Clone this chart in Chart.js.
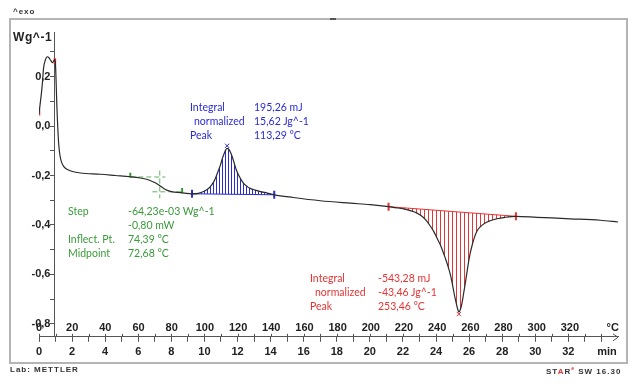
<!DOCTYPE html>
<html><head><meta charset="utf-8">
<script src="https://cdn.jsdelivr.net/npm/chart.js@4/dist/chart.umd.min.js"></script>
<style>
html,body{margin:0;padding:0;background:#fff;}
#wrap{position:relative;width:634px;height:384px;overflow:hidden;background:#fff;}
#c{position:absolute;left:0;top:0;}
.frame{position:absolute;left:9px;top:18px;width:615px;height:342px;border:2px solid #b4b4b4;pointer-events:none;}
.topmark{position:absolute;left:330px;top:18px;width:6px;height:2px;background:#555;}
.small{position:absolute;font-family:"Liberation Sans",Arial,sans-serif;font-weight:bold;font-size:8px;letter-spacing:1px;color:#333;white-space:nowrap;}
.ytitle{position:absolute;left:13px;top:30px;font-family:"Liberation Sans",Arial,sans-serif;font-weight:bold;font-size:12px;letter-spacing:0.6px;color:#222;}
.t{position:absolute;white-space:nowrap;font-family:Lato,"Open Sans",sans-serif;font-size:10.5px;line-height:14px;}
.blue{color:#2b2bd6;} .green{color:#3a9a3a;} .red{color:#e63333;}
</style></head>
<body>
<div id="wrap">
<canvas id="c" width="634" height="384"></canvas>
<div class="frame"></div>
<div class="topmark"></div>
<div class="small" style="left:13px;top:7px;">^exo</div>
<div class="ytitle">Wg^-1</div>
<div class="small" style="left:10px;top:365px;">Lab: METTLER</div>
<div class="small" style="left:546px;top:365px;letter-spacing:1px;">ST<span style="color:#e63333">A</span>R<sup style="color:#e63333;font-size:5px;">e</sup> SW 16.30</div>

<div class="t blue" style="left:190px;top:100px;">Integral</div>
<div class="t blue" style="left:194px;top:114px;">normalized</div>
<div class="t blue" style="left:190px;top:128px;">Peak</div>
<div class="t blue" style="left:254px;top:100px;">195,26 mJ</div>
<div class="t blue" style="left:254px;top:114px;">15,62 Jg^-1</div>
<div class="t blue" style="left:254px;top:128px;">113,29 °C</div>

<div class="t green" style="left:68px;top:204px;">Step</div>
<div class="t green" style="left:128px;top:204px;">-64,23e-03 Wg^-1</div>
<div class="t green" style="left:128px;top:218px;">-0,80 mW</div>
<div class="t green" style="left:68px;top:232px;">Inflect. Pt.</div>
<div class="t green" style="left:128px;top:232px;">74,39 °C</div>
<div class="t green" style="left:68px;top:246px;">Midpoint</div>
<div class="t green" style="left:128px;top:246px;">72,68 °C</div>

<div class="t red" style="left:310px;top:271px;">Integral</div>
<div class="t red" style="left:315px;top:285px;">normalized</div>
<div class="t red" style="left:310px;top:299px;">Peak</div>
<div class="t red" style="left:378px;top:271px;">-543,28 mJ</div>
<div class="t red" style="left:378px;top:285px;">-43,46 Jg^-1</div>
<div class="t red" style="left:378px;top:299px;">253,46 °C</div>
</div>
<script>
// ---- data (time in min, heat flow in W/g) ----
const timeMin = [0.00,0.19,0.28,0.39,0.49,0.60,0.72,0.81,0.90,0.96,1.00,1.04,1.08,1.13,1.19,1.26,1.35,1.50,1.72,2.02,2.50,3.71,4.62,5.52,6.13,6.55,6.85,7.15,7.45,7.76,8.06,8.54,
  9.25,9.63,9.95,10.18,10.36,10.54,10.66,10.81,10.96,11.08,11.20,11.29,11.37,11.44,11.56,11.69,11.81,11.93,12.07,12.23,12.37,12.59,12.77,13.07,13.38,13.80,14.22,
  15.37,17.00,18.82,20.02,21.13,21.54,22.04,22.44,22.85,23.17,23.45,23.65,23.85,24.05,24.25,24.40,24.55,24.71,24.86,24.98,25.10,25.20,25.30,25.38,25.46,25.56,25.66,25.76,25.86,25.96,26.06,26.17,26.31,26.47,26.67,26.97,27.27,27.68,28.18,28.83,
  30.10,32.11,33.93,35.00];
const heatFlow = [0.050,0.161,0.236,0.268,0.280,0.276,0.264,0.256,0.264,0.268,0.244,0.168,0.080,0.000,-0.072,-0.116,-0.144,-0.164,-0.176,-0.184,-0.190,-0.195,-0.200,-0.205,-0.210,-0.216,-0.224,-0.234,-0.248,-0.260,-0.266,-0.269,
  -0.274,-0.272,-0.265,-0.256,-0.245,-0.228,-0.212,-0.186,-0.159,-0.132,-0.110,-0.096,-0.090,-0.092,-0.104,-0.126,-0.152,-0.178,-0.199,-0.218,-0.232,-0.245,-0.252,-0.259,-0.265,-0.271,-0.278,
  -0.289,-0.302,-0.312,-0.318,-0.326,-0.330,-0.335,-0.342,-0.352,-0.366,-0.385,-0.404,-0.425,-0.452,-0.479,-0.504,-0.532,-0.564,-0.599,-0.636,-0.679,-0.710,-0.738,-0.752,-0.744,-0.719,-0.680,-0.639,-0.596,-0.552,-0.516,-0.485,-0.452,-0.425,-0.408,-0.392,-0.383,-0.375,-0.369,-0.365,
  -0.369,-0.375,-0.381,-0.388];

// integration limits and baselines
const blueLimitT = [9.25, 14.22];
const blueBaseV  = [-0.274, -0.278];
const redLimitT  = [21.13, 28.83];
const redBaseV   = [-0.326, -0.365];
const bluePeakT = [11.37], bluePeakV = [-0.080];
const redPeakT  = [25.38], redPeakV  = [-0.760];
// glass transition construction
const tgUpperT = [5.52, 7.64],  tgUpperV = [-0.206, -0.206];
const tgLowerT = [6.85, 8.79],  tgLowerV = [-0.266, -0.266];
const tgMidT   = [7.30, 7.30],  tgMidV   = [-0.180, -0.292];
const tgMarkT  = [5.52, 8.65],  tgMarkV  = [-0.199, -0.261];
const startMarkT = [0.00, 0.96], startMarkV = [0.055, 0.262];

// tick labels
const minuteTicks = [0,2,4,6,8,10,12,14,16,18,20,22,24,26,28,30,32];
const tempTicks = [0,20,40,60,80,100,120,140,160,180,200,220,240,260,280,300,320];
const yLabelTicks = [0.2,0.0,-0.2,-0.4,-0.6,-0.8];
const minuteUnit = {at: 34.33, text: 'min'};
const tempUnit = {at: 345.8, text: '°C'};

const pts = (xs, ys) => xs.map((x, i) => ({x, y: ys[i]}));
const curve = pts(timeMin, heatFlow);
const sub = (a, b) => curve.filter(p => p.x >= a - 1e-9 && p.x <= b + 1e-9);

function hatch(color, period) {
  const c = document.createElement('canvas'); c.width = period; c.height = 4;
  const g = c.getContext('2d'); g.fillStyle = color; g.fillRect(0, 0, 1, 4);
  return g.createPattern(c, 'repeat');
}
const BLUE = '#2b2bd6', RED = '#e63333', GREEN = '#3a9a3a', GREEN_L = '#62b262';

const axisFont = {family: '"Liberation Sans", Arial, sans-serif', size: 11, weight: 'bold'};

const extras = {
  id: 'extras',
  afterDraw(chart) {
    const xs = chart.scales.x, ctx = chart.ctx, y = chart.chartArea.bottom;
    ctx.save();
    ctx.strokeStyle = '#555'; ctx.lineWidth = 1;
    ctx.beginPath();
    for (let v = 0; v <= 34; v++) {
      const px = Math.round(xs.getPixelForValue(v)) + 0.5;
      ctx.moveTo(px, y - 3); ctx.lineTo(px, y);
    }
    const ex = xs.getPixelForValue(35);
    ctx.moveTo(ex - 5, y - 3); ctx.lineTo(ex, y + 0.5); ctx.lineTo(ex - 5, y + 4);
    ctx.stroke();
    ctx.restore();
  }
};

new Chart(document.getElementById('c'), {
  type: 'line',
  data: {
    datasets: [
      {data: curve, borderColor: '#2a2a2a', borderWidth: 1.2, pointRadius: 0, cubicInterpolationMode: 'monotone', fill: false},
      {data: sub(blueLimitT[0], blueLimitT[1]), borderWidth: 0, pointRadius: 0, cubicInterpolationMode: 'monotone', fill: 2, backgroundColor: hatch(BLUE, 3)},
      {data: pts(blueLimitT, blueBaseV), borderColor: BLUE, borderWidth: 1, pointRadius: 0, fill: false},
      {data: sub(redLimitT[0], redLimitT[1]), borderWidth: 0, pointRadius: 0, cubicInterpolationMode: 'monotone', fill: 4, backgroundColor: hatch(RED, 4)},
      {data: pts(redLimitT, redBaseV), borderColor: RED, borderWidth: 1, pointRadius: 0, fill: false},
      {data: pts(tgUpperT, tgUpperV), borderColor: GREEN_L, borderWidth: 1, borderDash: [5, 3], pointRadius: 0, fill: false},
      {data: pts(tgLowerT, tgLowerV), borderColor: GREEN_L, borderWidth: 1, borderDash: [5, 3], pointRadius: 0, fill: false},
      {data: pts(tgMidT, tgMidV), borderColor: GREEN_L, borderWidth: 1, borderDash: [5, 3], pointRadius: 0, fill: false},
      {data: pts(tgMarkT, tgMarkV), showLine: false, pointStyle: 'line', rotation: 90, pointRadius: 2.5, borderColor: GREEN, pointBorderWidth: 2},
      {data: pts(blueLimitT, blueBaseV), showLine: false, pointStyle: 'line', rotation: 90, pointRadius: 4, borderColor: BLUE, pointBorderWidth: 2},
      {data: pts(redLimitT, redBaseV), showLine: false, pointStyle: 'line', rotation: 90, pointRadius: 4, borderColor: RED, pointBorderWidth: 2},
      {data: pts(bluePeakT, bluePeakV), showLine: false, pointStyle: 'crossRot', pointRadius: 3, borderColor: BLUE, pointBorderWidth: 1},
      {data: pts(redPeakT, redPeakV), showLine: false, pointStyle: 'crossRot', pointRadius: 3, borderColor: RED, pointBorderWidth: 1},
      {data: pts(startMarkT, startMarkV), showLine: false, pointStyle: 'line', rotation: 90, pointRadius: 3, borderColor: RED, pointBorderWidth: 2.5}
    ]
  },
  options: {
    responsive: false, animation: false, devicePixelRatio: 1,
    layout: {padding: {left: 39, right: 16, top: 32, bottom: 21}},
    plugins: {legend: {display: false}, tooltip: {enabled: false}},
    scales: {
      x: {
        type: 'linear', position: 'bottom', min: 0, max: 35,
        ticks: {stepSize: 1, autoSkip: false, maxRotation: 0, minRotation: 0, includeBounds: false, padding: 4,
          font: axisFont, color: '#222',
          callback: v => minuteTicks.includes(v) ? String(v) : (Math.abs(v - minuteUnit.at) < 1e-6 ? minuteUnit.text : '')},
        afterBuildTicks: s => { s.ticks.push({value: minuteUnit.at}); },
        grid: {drawOnChartArea: false, drawTicks: true, tickLength: 5,
          tickColor: c => (c.tick && (c.tick.value > 34.1)) ? 'rgba(0,0,0,0)' : '#555'},
        border: {display: true, color: '#555', width: 1}
      },
      xT: {
        type: 'linear', axis: 'x', position: {y: -0.79}, min: 0, max: 349,
        ticks: {stepSize: 20, autoSkip: false, maxRotation: 0, minRotation: 0, includeBounds: false, padding: 0,
          font: axisFont, color: '#222',
          callback: v => tempTicks.includes(v) ? String(v) : (Math.abs(v - tempUnit.at) < 1e-6 ? tempUnit.text : '')},
        afterBuildTicks: s => { s.ticks = s.ticks.filter(t => t.value <= 320); s.ticks.push({value: tempUnit.at}); },
        grid: {display: false, drawTicks: false},
        border: {display: false}
      },
      y: {
        type: 'linear', position: {x: 0.96}, min: -0.852, max: 0.38,
        ticks: {stepSize: 0.1, includeBounds: false, padding: 1, font: axisFont, color: '#222',
          callback: v => {
            const r = Math.round(v * 10) / 10;
            const hit = yLabelTicks.some(t => Math.abs(t - r) < 1e-6);
            // trailing thin spaces keep the right-aligned label clear of the tick mark
            return hit ? (r === 0 ? '0,0' : r.toFixed(1).replace('.', ',')) + '\u2009\u2009' : '';
          }},
        grid: {drawOnChartArea: false, drawTicks: true, tickLength: 4, color: '#555'},
        border: {display: true, color: '#555', width: 1}
      }
    }
  },
  plugins: [extras]
});
</script>
</body></html>
